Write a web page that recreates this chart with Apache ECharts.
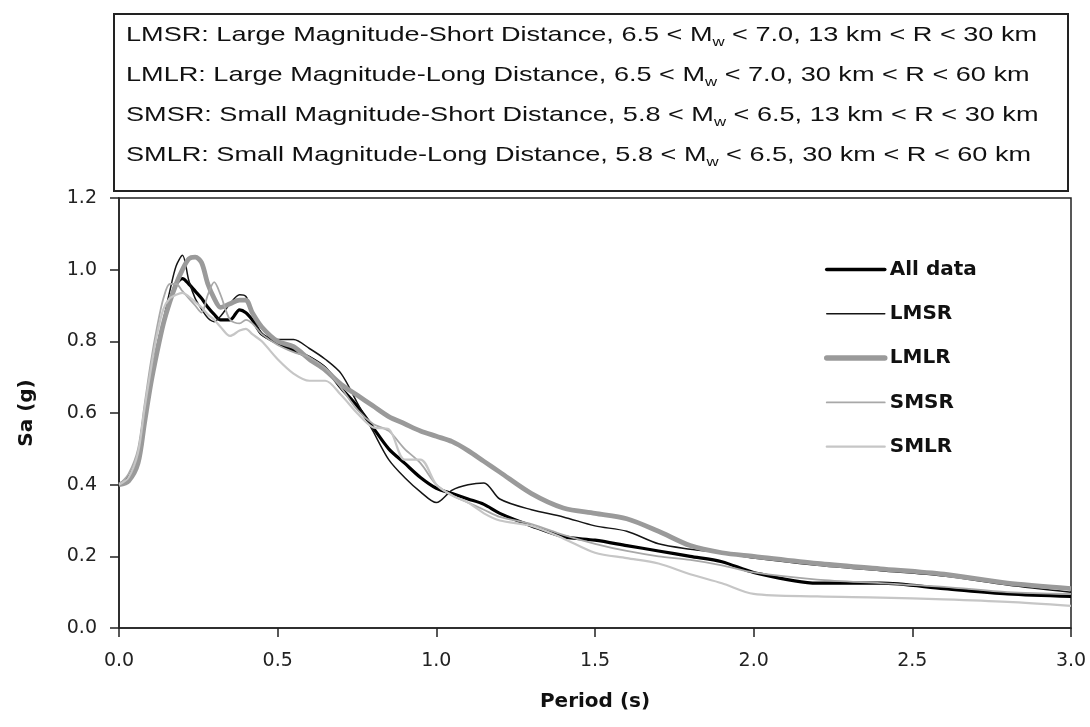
<!DOCTYPE html>
<html>
<head>
<meta charset="utf-8">
<script src="https://cdn.jsdelivr.net/npm/echarts@6/dist/echarts.min.js"></script>
<style>
html,body{margin:0;padding:0;background:#fff;}
#chart{width:1090px;height:727px;}
</style>
</head>
<body>
<div id="chart"></div>
<script>
var periods = [0, 0.03, 0.06, 0.08, 0.1, 0.12, 0.14, 0.16, 0.18, 0.2, 0.22, 0.24, 0.26, 0.28, 0.3, 0.32, 0.35, 0.38, 0.4, 0.42, 0.45, 0.5, 0.55, 0.6, 0.65, 0.7, 0.75, 0.8, 0.85, 0.9, 0.95, 1.0, 1.05, 1.1, 1.15, 1.2, 1.3, 1.4, 1.5, 1.6, 1.7, 1.8, 1.9, 2.0, 2.2, 2.4, 2.6, 2.8, 3.0];

var allData = [0.40,0.42,0.48,0.59,0.70,0.78,0.85,0.91,0.96,0.975,0.96,0.94,0.92,0.895,0.875,0.86,0.86,0.888,0.88,0.86,0.82,0.795,0.775,0.755,0.725,0.67,0.62,0.56,0.50,0.46,0.42,0.39,0.375,0.36,0.345,0.32,0.285,0.255,0.245,0.23,0.215,0.20,0.185,0.155,0.125,0.125,0.11,0.095,0.088];
var lmsr = [0.40,0.42,0.47,0.58,0.69,0.78,0.86,0.94,1.01,1.04,0.97,0.92,0.89,0.865,0.855,0.87,0.905,0.93,0.925,0.88,0.82,0.805,0.805,0.78,0.75,0.71,0.63,0.55,0.47,0.42,0.38,0.35,0.385,0.40,0.405,0.36,0.33,0.31,0.285,0.27,0.235,0.22,0.21,0.195,0.175,0.16,0.145,0.12,0.10];
var lmlr = [0.40,0.41,0.46,0.57,0.68,0.77,0.85,0.91,0.96,1.00,1.03,1.035,1.02,0.96,0.92,0.895,0.905,0.915,0.915,0.88,0.84,0.80,0.785,0.75,0.72,0.68,0.65,0.62,0.59,0.57,0.55,0.535,0.52,0.495,0.465,0.435,0.375,0.335,0.32,0.305,0.27,0.23,0.21,0.20,0.18,0.165,0.15,0.125,0.11];
var smsr = [0.40,0.43,0.50,0.62,0.74,0.84,0.92,0.96,0.96,0.94,0.92,0.90,0.88,0.93,0.965,0.93,0.86,0.85,0.86,0.85,0.82,0.79,0.77,0.755,0.725,0.67,0.61,0.57,0.55,0.50,0.46,0.40,0.37,0.35,0.33,0.31,0.29,0.26,0.235,0.215,0.20,0.19,0.175,0.155,0.135,0.125,0.115,0.10,0.095];
var smlr = [0.40,0.42,0.49,0.61,0.72,0.82,0.89,0.92,0.93,0.935,0.925,0.91,0.895,0.875,0.86,0.84,0.815,0.83,0.835,0.82,0.80,0.75,0.71,0.69,0.69,0.65,0.60,0.56,0.555,0.47,0.47,0.40,0.37,0.35,0.32,0.30,0.285,0.25,0.21,0.195,0.18,0.15,0.125,0.095,0.088,0.085,0.08,0.073,0.062];

var seriesNames = ['All data', 'LMSR', 'LMLR', 'SMSR', 'SMLR'];
var boxLines = [
  'LMSR: Large Magnitude-Short Distance, 6.5 < M{w|w} < 7.0, 13 km < R < 30 km',
  'LMLR: Large Magnitude-Long Distance, 6.5 < M{w|w} < 7.0, 30 km < R < 60 km',
  'SMSR: Small Magnitude-Short Distance, 5.8 < M{w|w} < 6.5, 13 km < R < 30 km',
  'SMLR: Small Magnitude-Long Distance, 5.8 < M{w|w} < 6.5, 30 km < R < 60 km'
];

function pairs(vals) {
  return periods.map(function (t, i) { return [t, vals[i]]; });
}

var styles = [
  {color: '#000000', width: 3.2},
  {color: '#151515', width: 1.5},
  {color: '#9a9a9a', width: 4.8},
  {color: '#a8a8a8', width: 1.8},
  {color: '#c6c6c6', width: 2.2}
];
var values = [allData, lmsr, lmlr, smsr, smlr];
var drawOrder = [4, 3, 2, 1, 0];

var series = seriesNames.map(function (n, i) {
  return {
    name: n,
    type: 'line',
    data: pairs(values[i]),
    symbol: 'none',
    smooth: 0.3,
    z: 10 - drawOrder.indexOf(i),
    lineStyle: {color: styles[i].color, width: styles[i].width},
    itemStyle: {color: styles[i].color}
  };
});

var legendData = seriesNames.map(function (n, i) {
  return {
    name: n,
    lineStyle: {color: styles[i].color, width: i === 0 ? 3.6 : (i === 2 ? 5.5 : styles[i].width), cap: 'round'},
    itemStyle: {opacity: 0}
  };
});

var FONT = '"Liberation Sans", Arial, sans-serif';
var WFONT = '"DejaVu Sans", Verdana, sans-serif';

var graphics = [{
  type: 'rect',
  shape: {x: 114, y: 14, width: 954, height: 177},
  style: {fill: '#fff', stroke: '#222', lineWidth: 2},
  z: 1
}];
var lineYs = [35, 75, 115, 155];
boxLines.forEach(function (txt, i) {
  graphics.push({
    type: 'text',
    x: 126,
    y: lineYs[i],
    scaleX: 1.29,
    z: 2,
    style: {
      text: txt,
      fill: '#111',
      font: '21px ' + FONT,
      verticalAlign: 'middle',
      align: 'left',
      rich: {
        w: {fontSize: 13, fontFamily: 'Liberation Sans, Arial, sans-serif', verticalAlign: 'bottom', lineHeight: 13, fill: '#111'}
      },
      lineHeight: 28
    }
  });
});

var chart = echarts.init(document.getElementById('chart'));
chart.setOption({
  backgroundColor: '#ffffff',
  animation: false,
  grid: {left: 119, right: 19, top: 198, bottom: 99, show: true, borderColor: '#222', borderWidth: 1.5, backgroundColor: 'transparent'},
  xAxis: {
    type: 'value', min: 0, max: 3, interval: 0.5,
    name: 'Period (s)', nameLocation: 'middle', nameGap: 64,
    nameTextStyle: {fontFamily: WFONT, fontWeight: 'bold', fontSize: 20, color: '#111'},
    axisLine: {show: true, onZero: false, lineStyle: {color: '#222', width: 1.5}},
    axisTick: {show: true, inside: false, length: 9, lineStyle: {color: '#222', width: 1.5}},
    axisLabel: {margin: 24, fontFamily: WFONT, fontSize: 19, color: '#222', formatter: function (v) { return v.toFixed(1); }},
    splitLine: {show: false}
  },
  yAxis: {
    type: 'value', min: 0, max: 1.2, interval: 0.2,
    name: 'Sa (g)', nameLocation: 'middle', nameGap: 82,
    nameTextStyle: {fontFamily: WFONT, fontWeight: 'bold', fontSize: 20, color: '#111'},
    axisLine: {show: true, onZero: false, lineStyle: {color: '#222', width: 1.5}},
    axisTick: {show: true, inside: false, length: 9, lineStyle: {color: '#222', width: 1.5}},
    axisLabel: {margin: 22, fontFamily: WFONT, fontSize: 19, color: '#222', formatter: function (v) { return v.toFixed(1); }},
    splitLine: {show: false}
  },
  legend: {
    data: legendData,
    orient: 'vertical',
    left: 824, top: 259,
    padding: 0,
    itemWidth: 58, itemHeight: 14, itemGap: 23.3,
    itemStyle: {opacity: 0},
    textStyle: {fontFamily: WFONT, fontWeight: 'bold', fontSize: 20, color: '#111', lineHeight: 21},
    selectedMode: false
  },
  graphic: graphics,
  series: series
});
</script>
</body>
</html>
